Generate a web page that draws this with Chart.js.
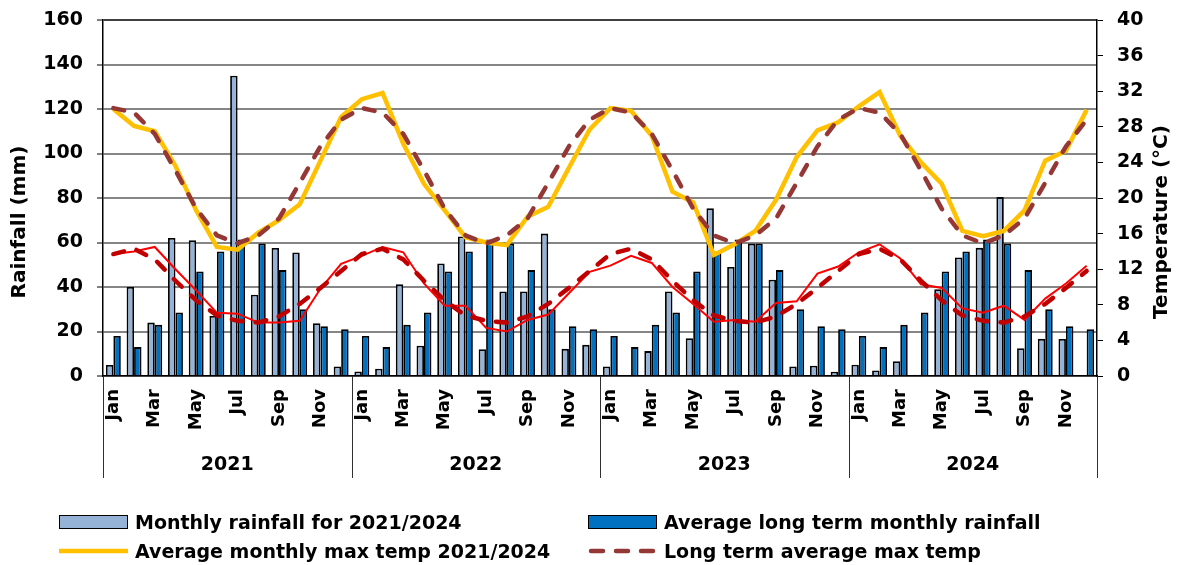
<!DOCTYPE html>
<html>
<head>
<meta charset="utf-8">
<script src="https://cdn.jsdelivr.net/npm/chart.js@4.4.0/dist/chart.umd.min.js"></script>
<style>
  html, body { margin: 0; padding: 0; background: #fff; }
  #wrap { position: relative; width: 1177px; height: 565px; }
  .item { position: absolute; height: 24px; display: flex; align-items: center; white-space: nowrap;
          font: bold 19px "DejaVu Sans", sans-serif; color: #000; }
  .sw { width: 69px; height: 14px; box-sizing: border-box; border: 1.8px solid #000; margin-right: 7px; }
  svg { margin-right: 7px; }
</style>
</head>
<body>
<div id="wrap">
  <canvas id="cnv" width="1177" height="565"></canvas>
  <div class="item" style="left:59px; top:510px;"><div class="sw" style="background:#95B3D7"></div>Monthly rainfall for 2021/2024</div>
  <div class="item" style="left:588px; top:510px;"><div class="sw" style="background:#0070C0"></div>Average long term monthly rainfall</div>
  <div class="item" style="left:59px; top:539px;"><svg width="69" height="10"><line x1="0" y1="5" x2="69" y2="5" stroke="#FFC000" stroke-width="4.5"/></svg>Average monthly max temp 2021/2024</div>
  <div class="item" style="left:588px; top:539px;"><svg width="69" height="10"><line x1="3" y1="5" x2="69" y2="5" stroke="#953735" stroke-width="4.5" stroke-linecap="round" stroke-dasharray="12 13"/></svg>Long term average max temp</div>
</div>
<script>
const months = ['Jan', 'Feb', 'Mar', 'Apr', 'May', 'Jun', 'Jul', 'Aug', 'Sep', 'Oct', 'Nov', 'Dec'];
const years = ['2021', '2022', '2023', '2024'];
const rainTitle = 'Rainfall (mm)';
const tempTitle = 'Temperature (°C)';

// rainfall (mm), Jan 2021 .. Dec 2024
const monthlyRain = [
  5, 40, 24, 62, 61, 27, 135, 36.5, 57.5, 55.5, 23.7, 4.3,
  2, 3.3, 41.2, 13.6, 50.6, 62.7, 12, 38, 38, 64, 12.2, 14,
  4.3, 0, 11.2, 38, 17, 75.4, 49, 59.5, 43.3, 4.3, 4.6, 1.9,
  5.1, 2.5, 6.6, 0.6, 39, 53.3, 57.6, 80.4, 12.5, 16.7, 16.6, 0
];
const longTermRain = [18, 13, 23, 28.5, 47, 56, 61.3, 59.5, 47.6, 30, 22.4, 21];

// temperatures (°C)
const maxTemp = [
  30, 28.1, 27.5, 23.6, 18.6, 14.5, 14.2, 16.1, 17.5, 19.3, 24.2, 29.1,
  31.1, 31.8, 26.1, 21.6, 18.6, 15.6, 15.0, 14.7, 17.9, 19.0, 23.4, 27.7,
  30.1, 29.8, 27.0, 20.7, 19.5, 13.6, 14.8, 16.3, 19.8, 24.6, 27.6, 28.5,
  30.3, 31.9, 27.0, 24.0, 21.6, 16.3, 15.7, 16.3, 18.6, 24.2, 25.3, 29.9
];
const longTermMax = [30.1, 29.6, 27.2, 23.1, 18.8, 15.8, 14.9, 15.8, 17.7, 21.7, 25.8, 28.8];
const minTemp = [
  13.7, 14.0, 14.5, 12.0, 9.6, 7.1, 7.0, 6.0, 6.0, 6.2, 9.8, 12.6,
  13.5, 14.5, 13.9, 10.4, 7.9, 7.9, 5.4, 5.0, 6.3, 6.9, 9.3, 11.7,
  12.4, 13.5, 12.7, 10.0, 8.1, 6.1, 6.3, 6.1, 8.2, 8.4, 11.5, 12.3,
  13.9, 14.8, 13.2, 10.3, 9.9, 7.6, 7.1, 7.9, 6.3, 8.7, 10.4, 12.4
];
const longTermMin = [13.7, 14.3, 13.1, 10.7, 8.5, 6.8, 6.2, 6.0, 6.7, 8.1, 9.9, 11.8];

const labels = years.flatMap(() => months);
const perYear = arr => years.flatMap(() => arr);

const FONT = '"DejaVu Sans", sans-serif';

// year row + separators under the month labels, and the two axis titles
const extras = {
  id: 'extras',
  afterDraw(chart) {
    const { ctx, chartArea: a, scales: { x } } = chart;
    const step = x.getPixelForValue(1) - x.getPixelForValue(0);
    ctx.save();
    ctx.strokeStyle = '#303030';
    ctx.lineWidth = 1;
    for (let k = 0; k <= years.length; k++) {
      const px = Math.round(x.getPixelForValue(k * 12) - step / 2) + 0.5;
      ctx.beginPath();
      ctx.moveTo(px, a.bottom);
      ctx.lineTo(px, 478);
      ctx.stroke();
    }
    ctx.fillStyle = '#000';
    ctx.font = 'bold 19px ' + FONT;
    ctx.textAlign = 'center';
    ctx.textBaseline = 'middle';
    years.forEach((yr, k) => {
      const cx = (x.getPixelForValue(k * 12) + x.getPixelForValue(k * 12 + 11)) / 2;
      ctx.fillText(yr, cx, 465);
    });

    // both titles read bottom to top, sitting a bit below the plot middle
    ctx.font = 'bold 20px ' + FONT;
    [[rainTitle, 20], [tempTitle, 1162]].forEach(([t, tx]) => {
      ctx.save();
      ctx.translate(tx, 222);
      ctx.rotate(-Math.PI / 2);
      ctx.fillText(t, 0, 0);
      ctx.restore();
    });
    ctx.restore();
  }
};

const lineBase = { type: 'line', yAxisID: 'y1', pointRadius: 0, tension: 0, fill: false };

// fixed axis sizes so the plot area sits where the original one does
const fixWidth = w => s => { s.width = w; s.paddingTop = 0; s.paddingBottom = 0; };

new Chart(document.getElementById('cnv'), {
  type: 'bar',
  data: {
    labels: labels,
    datasets: [
      { ...lineBase, label: 'Long term average min temp', data: perYear(longTermMin),
        borderColor: '#C00000', borderWidth: 4.5, borderDash: [11, 13], borderCapStyle: 'round', order: 0 },
      { ...lineBase, label: 'Average monthly min temp 2021/2024', data: minTemp,
        borderColor: '#FF0000', borderWidth: 2, order: 1 },
      { ...lineBase, label: 'Long term average max temp', data: perYear(longTermMax),
        borderColor: '#953735', borderWidth: 4.5, borderDash: [11, 13], borderCapStyle: 'round', order: 2 },
      { ...lineBase, label: 'Average monthly max temp 2021/2024', data: maxTemp,
        borderColor: '#FFC000', borderWidth: 4.5, order: 3 },
      { label: 'Monthly rainfall for 2021/2024', data: monthlyRain, yAxisID: 'y',
        backgroundColor: '#95B3D7', borderColor: '#000', borderWidth: 1.8,
        categoryPercentage: 0.72, barPercentage: 1.0, order: 10 },
      { label: 'Average long term monthly rainfall', data: perYear(longTermRain), yAxisID: 'y',
        backgroundColor: '#0070C0', borderColor: '#000', borderWidth: 1.8,
        categoryPercentage: 0.72, barPercentage: 1.0, order: 11 }
    ]
  },
  options: {
    responsive: false,
    animation: false,
    layout: { padding: { top: 20, left: 0, right: 0, bottom: 0 } },
    plugins: { legend: { display: false }, tooltip: { enabled: false } },
    scales: {
      x: {
        grid: { display: false, drawTicks: false },
        border: { color: '#000', width: 1.5 },
        ticks: {
          autoSkip: false, minRotation: 90, maxRotation: 90, padding: 13,
          color: '#000', font: { family: FONT, size: 18, weight: 'bold' },
          callback: (v, i) => (i % 2 === 0 ? labels[i] : '')
        },
        afterFit: s => { s.height = 189; }
      },
      y: {
        position: 'left', min: 0, max: 160,
        ticks: { stepSize: 20, padding: 14, color: '#000', font: { family: FONT, size: 19, weight: 'bold' } },
        grid: {
          color: c => (c.tick && c.tick.value === 160 ? '#404040' : '#868686'),
          lineWidth: 2, tickLength: 6, tickColor: '#000', tickWidth: 1
        },
        border: { color: '#000', width: 1.5 },
        afterFit: fixWidth(103)
      },
      y1: {
        position: 'right', min: 0, max: 40,
        ticks: { stepSize: 4, padding: 14, color: '#000', font: { family: FONT, size: 19, weight: 'bold' } },
        grid: { drawOnChartArea: false, tickLength: 6, tickColor: '#000', tickWidth: 1 },
        border: { color: '#000', width: 1.5 },
        afterFit: fixWidth(80)
      }
    }
  },
  plugins: [extras]
});
</script>
</body>
</html>
